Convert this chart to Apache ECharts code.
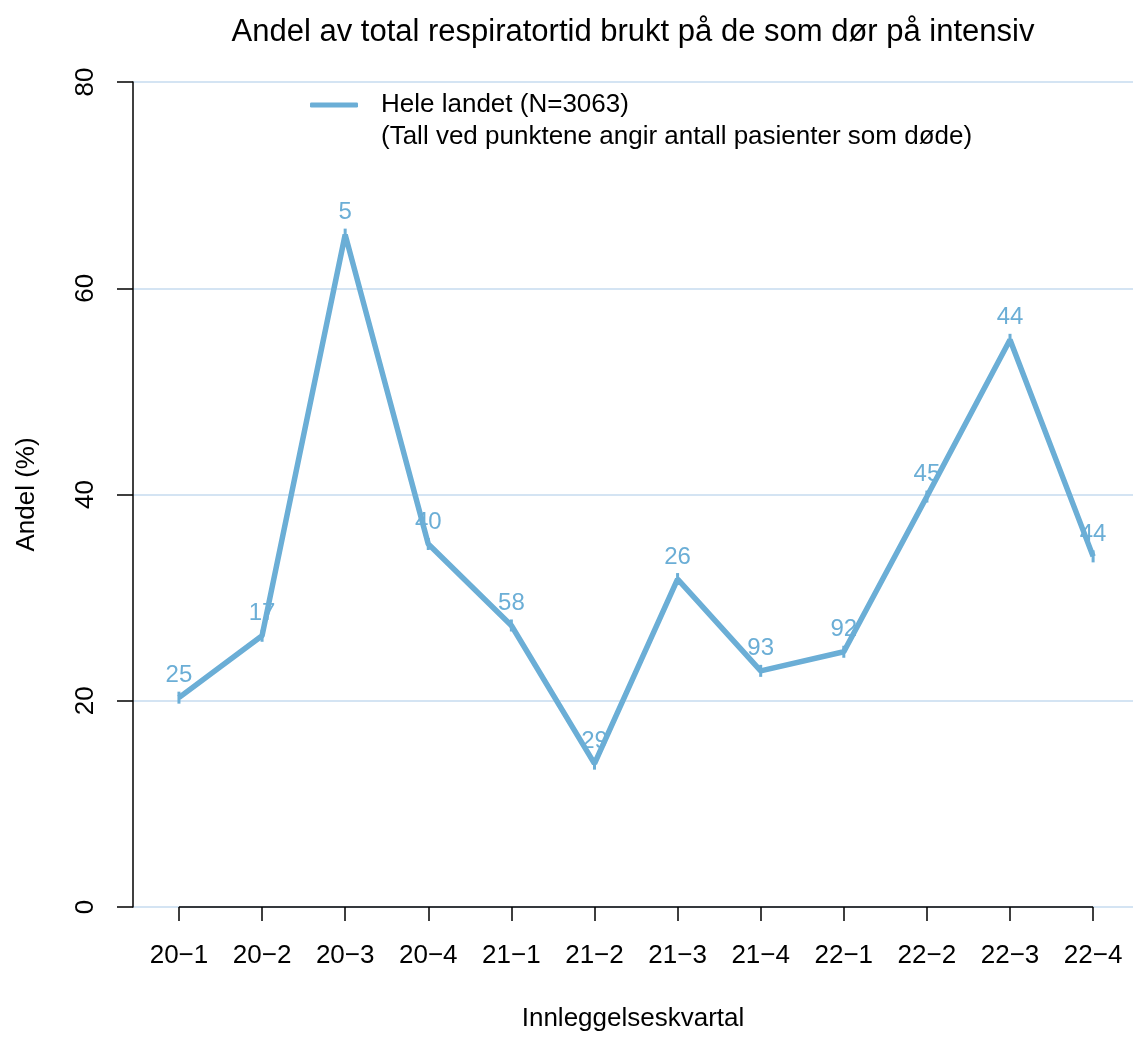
<!DOCTYPE html>
<html>
<head>
<meta charset="utf-8">
<script src="https://cdn.jsdelivr.net/npm/echarts@6/dist/echarts.min.js"></script>
<style>
  html, body { margin: 0; padding: 0; background: #fff; }
  #chart { width: 1133px; height: 1037px; }
</style>
</head>
<body>
<div id="chart"></div>
<script>
// Quarter of admission
const quarters = ['20−1', '20−2', '20−3', '20−4', '21−1', '21−2', '21−3', '21−4', '22−1', '22−2', '22−3', '22−4'];
// Share (%) of total ventilator time used by patients who died in ICU
const shares = [20.3, 26.3, 65.2, 35.2, 27.3, 13.9, 31.8, 22.9, 24.75, 39.8, 55.0, 34.0];
// Number of patients who died, shown at each point
const deaths = [25, 17, 5, 40, 58, 29, 26, 93, 92, 45, 44, 44];
const yTicks = [0, 20, 40, 60, 80];

const lineColor = '#6baed6';
const font = "'Liberation Sans', Arial, Helvetica, sans-serif";
const positions = quarters.map((q, i) => i + 1);

const chart = echarts.init(document.getElementById('chart'), null, { renderer: 'canvas' });

chart.setOption({
  animation: false,
  backgroundColor: '#ffffff',
  textStyle: { fontFamily: font },
  title: {
    text: 'Andel av total respiratortid brukt på de som dør på intensiv',
    left: 628,
    textAlign: 'center',
    top: 12,
    textStyle: { fontFamily: font, fontSize: 31, fontWeight: 'normal', color: '#000' }
  },
  legend: {
    left: 305,
    top: 87,
    orient: 'vertical',
    itemWidth: 48,
    itemHeight: 5,
    itemGap: 6,
    textStyle: { fontFamily: font, fontSize: 26, lineHeight: 26, color: '#000', padding: [0, 0, 0, 18] },
    data: [
      { name: 'Hele landet (N=3063)', icon: 'roundRect' },
      { name: '(Tall ved punktene angir antall pasienter som døde)', icon: 'none' }
    ]
  },
  grid: { left: 133, right: 0, top: 82, bottom: 129, containLabel: false },
  xAxis: {
    type: 'value',
    min: 0.447,
    max: 12.48,
    name: 'Innleggelseskvartal',
    nameLocation: 'middle',
    nameGap: 99,
    nameTextStyle: { fontFamily: font, fontSize: 26, color: '#000' },
    axisLine: { show: false },
    axisTick: {
      show: true,
      customValues: positions,
      length: 14,
      lineStyle: { color: '#000', width: 1.5 }
    },
    axisLabel: {
      show: true,
      customValues: positions,
      formatter: v => quarters[Math.round(v) - 1] || '',
      fontFamily: font,
      fontSize: 26,
      color: '#000',
      margin: 36
    },
    splitLine: { show: false }
  },
  yAxis: {
    type: 'value',
    min: 0,
    max: 80,
    interval: 20,
    name: 'Andel (%)',
    nameLocation: 'middle',
    nameGap: 93,
    nameRotate: 90,
    nameTextStyle: { fontFamily: font, fontSize: 26, color: '#000' },
    axisLine: { show: true, lineStyle: { color: '#000', width: 1.5 } },
    axisTick: { show: true, length: 16, lineStyle: { color: '#000', width: 1.5 } },
    axisLabel: {
      rotate: 90,
      fontFamily: font,
      fontSize: 26,
      color: '#000',
      margin: 34,
      customValues: yTicks
    },
    splitLine: { show: true, lineStyle: { color: '#c6dbef', width: 1.5 } }
  },
  series: [
    {
      name: 'Hele landet (N=3063)',
      type: 'line',
      data: shares.map((v, i) => [positions[i], v]),
      color: lineColor,
      lineStyle: { color: lineColor, width: 5.5 },
      symbol: 'rect',
      symbolSize: [3, 12],
      itemStyle: { color: lineColor },
      label: {
        show: true,
        position: 'top',
        distance: 4,
        formatter: p => String(deaths[p.dataIndex]),
        fontFamily: font,
        fontSize: 24,
        color: lineColor
      },
      z: 5,
      markLine: {
        silent: true,
        symbol: 'none',
        label: { show: false },
        lineStyle: { color: '#000', width: 1.5, type: 'solid' },
        data: [[{ coord: [positions[0], 0] }, { coord: [positions[positions.length - 1], 0] }]],
        z: 4
      }
    },
    {
      name: '(Tall ved punktene angir antall pasienter som døde)',
      type: 'line',
      data: [],
      color: '#000'
    }
  ]
});
</script>
</body>
</html>
